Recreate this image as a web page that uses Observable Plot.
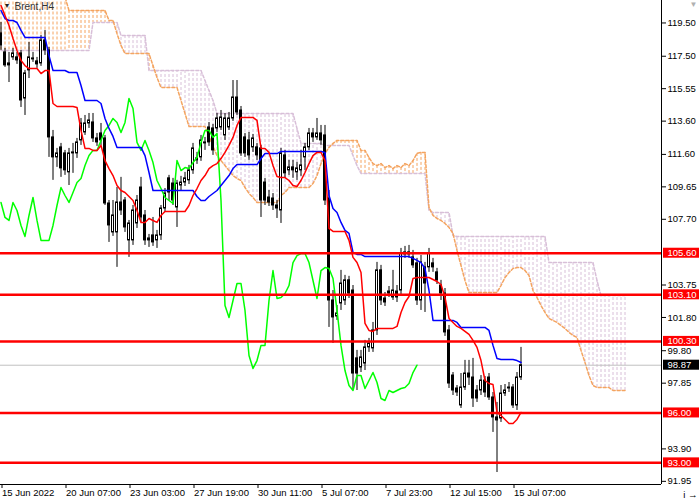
<!DOCTYPE html>
<html><head><meta charset="utf-8">
<script src="https://cdn.jsdelivr.net/npm/d3@7"></script>
<script src="https://cdn.jsdelivr.net/npm/@observablehq/plot@0.6"></script>
<style>
html,body{margin:0;padding:0;background:#fff;}
#chart{width:700px;height:500px;overflow:hidden;}
</style></head><body><div id="chart"></div>
<script>
// ---------- data (H4 bars, index 0 = first bar on the chart) ----------
const symbolLabel = "Brent,H4";
const dateLabels = ["15 Jun 2022","20 Jun 07:00","23 Jun 03:00","27 Jun 19:00","30 Jun 11:00","5 Jul 07:00","7 Jul 23:00","12 Jul 15:00","15 Jul 07:00"];
const dateTickBars = [0,16,32,48,64,80,96,112,128];
const yTicks = [119.50,117.50,115.55,113.60,111.60,109.65,107.70,103.75,101.80,99.80,97.85,93.90,91.95];
const levels = [105.60,103.10,100.30,96.00,93.00];
const lastPrice = 98.87;

const open = [
118.81,117.67,116.89,117.37,117.37,117.61,114.90,116.59,117.25,117.13,
117.01,118.39,117.79,112.56,111.36,111.96,111.60,110.46,111.60,111.60,
112.38,112.86,113.40,113.46,112.50,112.80,112.50,108.59,106.85,106.85,
108.65,108.77,106.37,106.37,107.39,109.55,107.87,106.37,106.67,106.37,
106.67,108.29,110.10,109.79,108.35,109.67,109.85,109.98,110.58,111.18,
111.36,112.20,113.16,113.10,113.10,113.16,112.68,113.16,113.70,114.96,
114.18,112.56,112.38,111.96,111.96,111.90,109.85,108.95,108.89,108.47,
108.17,111.48,110.58,110.76,110.46,110.58,111.36,111.96,112.80,112.56,
112.80,112.68,108.89,102.76,101.80,102.58,102.76,103.97,103.36,99.28,
98.73,98.97,99.94,99.88,100.96,104.57,102.88,103.18,102.94,103.30,
103.36,105.53,105.65,105.35,104.99,102.76,104.75,104.75,104.99,104.45,
103.66,103.18,100.96,98.25,97.47,96.45,97.53,98.37,98.13,97.35,
97.35,97.95,98.13,96.93,95.73,95.67,97.17,97.47,97.53,96.45,98.13];
const high = [
119.47,117.91,117.67,117.91,117.67,117.79,116.59,118.27,117.67,117.37,
118.69,118.99,117.97,112.98,111.90,112.20,111.78,111.90,112.20,112.50,
113.70,113.88,114.00,114.00,112.80,113.40,112.68,108.77,108.77,109.55,
110.16,108.95,107.57,108.47,109.07,110.16,108.17,106.73,107.75,106.97,
108.47,109.49,110.28,110.10,109.98,110.22,110.46,110.88,112.20,111.66,
112.68,112.56,113.46,113.34,114.00,114.18,114.00,114.06,115.98,115.98,
114.42,112.80,112.86,112.74,112.20,112.08,110.10,109.37,109.19,108.77,
111.90,111.78,111.18,111.18,111.06,111.78,112.20,113.10,113.10,113.70,
113.28,113.28,109.37,103.36,102.46,104.57,104.27,104.21,103.66,99.76,
99.76,100.36,100.48,101.44,105.05,104.87,103.24,103.60,104.57,103.66,
105.89,106.01,106.07,105.77,105.29,105.47,105.05,105.89,105.29,104.69,
103.97,103.48,101.26,98.43,97.65,98.37,99.16,99.16,99.28,97.65,
98.25,98.19,98.37,97.23,96.63,97.65,97.71,97.83,97.71,98.43,99.94];
const low = [
117.79,116.77,115.86,117.19,116.95,114.36,113.88,116.10,117.07,116.71,
116.83,117.49,111.36,109.98,110.76,110.16,110.28,109.67,110.40,111.30,
112.08,112.68,113.10,112.26,112.02,112.08,108.47,106.25,106.61,104.75,
107.87,106.85,105.35,106.07,107.09,107.45,106.07,105.95,106.01,105.89,
106.37,108.05,108.77,108.47,107.15,109.37,109.61,109.73,110.34,110.94,
111.12,111.78,112.02,111.48,112.86,112.98,112.38,112.98,113.52,113.88,
111.42,111.36,111.18,111.66,111.18,107.75,108.47,108.41,108.17,107.69,
107.39,110.10,110.28,110.10,109.98,110.22,110.58,111.78,112.26,112.38,
112.08,108.47,101.14,100.18,101.56,102.16,102.46,102.88,97.35,97.35,
98.43,98.55,99.64,99.64,100.66,102.46,102.40,102.94,102.76,102.64,
103.06,105.29,105.29,104.69,102.46,102.16,102.04,104.45,104.45,103.72,
102.76,100.60,97.47,97.05,96.99,96.27,97.35,97.65,96.33,96.63,
97.05,96.93,96.75,94.83,92.42,95.43,96.99,97.23,96.27,96.15,97.95];
const close = [
118.09,116.89,117.01,117.61,117.19,114.78,116.41,117.37,117.31,116.95,
118.39,117.79,112.56,111.36,111.60,110.70,110.58,111.60,111.66,112.26,
113.40,113.40,113.58,112.50,112.26,112.38,108.59,107.27,107.87,108.65,
108.17,107.15,107.39,108.17,108.77,107.75,106.37,106.49,106.25,106.67,
108.29,109.19,109.25,108.77,109.79,109.85,110.10,110.58,111.90,111.30,
112.38,112.26,112.26,111.78,113.70,113.76,113.70,113.70,114.96,114.06,
111.60,111.60,111.48,112.50,111.48,108.77,108.77,108.65,108.47,108.29,
111.60,110.40,110.76,110.58,110.70,110.88,111.96,112.80,112.56,112.80,
112.38,108.77,102.76,101.74,101.98,103.78,103.97,103.18,98.37,98.37,
99.34,99.94,100.18,100.96,104.57,102.76,102.64,103.30,103.36,102.94,
105.59,105.65,105.53,104.87,102.76,105.05,103.78,105.59,104.75,103.97,
103.18,100.84,97.77,97.35,97.23,97.53,98.37,98.13,96.87,96.87,
97.95,97.23,96.93,95.73,95.55,97.17,97.35,97.53,96.45,98.13,98.87];

const tenkan = [
120.49,119.89,119.29,118.51,117.79,117.19,116.88,116.70,116.70,116.70,
116.40,116.58,116.58,114.60,114.42,114.42,114.42,114.42,114.42,114.36,
112.98,111.90,111.90,111.78,111.78,112.08,111.17,110.69,110.27,109.67,
109.37,109.25,109.01,108.77,108.17,107.45,107.45,107.69,107.57,107.45,
107.87,108.11,108.11,108.11,108.11,108.11,108.11,108.47,109.07,109.49,
109.97,110.27,110.69,110.87,110.99,111.29,111.66,112.08,112.56,113.28,
113.76,113.76,113.76,113.76,113.58,111.90,111.90,111.66,110.87,110.21,
110.15,110.15,109.97,109.67,109.61,109.97,110.45,110.99,111.47,111.66,
111.66,111.17,107.09,106.91,106.91,106.91,106.91,106.37,105.35,105.04,
104.44,101.38,100.96,100.90,101.08,101.08,101.08,101.08,101.08,101.20,
102.04,102.64,103.00,104.08,104.14,104.14,104.14,104.14,104.02,103.90,
103.72,102.94,101.68,101.44,101.20,101.08,100.90,100.72,100.36,99.94,
99.15,97.95,97.77,97.71,96.03,95.85,95.61,95.37,95.37,95.61,96.03];
const kijun = [
120.19,119.71,119.59,119.59,119.47,118.99,118.57,118.57,118.57,118.57,
118.57,118.57,117.48,116.58,116.58,116.58,116.58,116.46,116.46,116.46,
115.68,114.78,114.78,114.78,114.78,114.60,113.70,113.10,112.62,111.96,
111.96,111.96,111.96,111.96,111.96,111.96,111.47,110.45,109.37,109.37,
109.37,109.37,109.37,109.37,109.37,109.37,109.37,109.37,109.37,109.01,
108.77,108.77,109.01,109.19,109.37,109.67,109.97,110.27,110.69,110.93,
110.93,110.93,110.93,110.93,110.93,111.29,111.59,111.59,111.59,111.59,
111.72,111.72,111.72,111.72,111.72,111.72,111.72,111.72,111.72,111.72,
111.72,111.66,109.07,108.29,108.05,107.45,106.97,106.79,105.65,105.53,
105.53,105.40,105.40,105.40,105.40,105.40,105.40,105.40,105.40,105.40,
105.40,105.40,105.40,105.29,105.17,105.04,104.68,103.36,101.56,101.56,
101.56,101.56,101.56,101.56,101.44,101.14,101.14,101.14,101.14,101.14,
101.14,101.14,100.96,100.06,99.27,99.21,99.21,99.21,99.21,99.15,99.03];
// Chikou span, drawn 26 bars back (bars 0..104)
const chikou = [
108.65,107.75,107.57,108.65,108.17,107.27,106.61,107.87,108.95,107.57,
106.37,106.37,106.37,107.27,108.47,109.55,109.07,108.65,109.25,109.85,
110.09,110.87,111.47,111.78,111.78,112.38,112.98,113.28,113.70,113.46,
112.86,113.46,114.90,114.30,112.26,111.78,112.38,111.78,111.05,109.97,
109.49,108.95,108.77,108.59,111.17,110.57,110.75,110.69,111.05,111.35,
112.26,112.98,112.98,112.56,112.80,108.77,102.46,101.74,102.76,103.78,
103.78,102.16,99.45,98.67,99.15,100.06,100.06,102.76,104.56,102.88,
102.94,103.18,103.66,105.04,105.46,105.58,105.58,105.04,103.96,102.88,
104.56,104.74,104.68,104.08,102.16,100.06,98.55,97.65,97.35,98.25,
98.25,97.47,97.95,98.43,97.83,96.87,96.75,97.35,97.23,97.35,
97.47,97.53,97.77,98.43,98.87];
// Senkou spans, drawn 26 bars ahead (bars 0..156)
const senkouA = [
121.00,121.00,121.00,121.00,121.00,121.00,121.00,121.00,121.00,121.00,
121.00,121.00,121.00,121.00,121.00,121.00,121.00,120.19,120.19,120.19,
120.19,120.19,120.19,120.19,120.19,120.19,120.19,119.59,119.59,118.81,
118.09,117.60,117.60,117.60,117.60,117.60,117.60,117.60,116.88,116.16,
115.56,115.56,115.56,115.56,115.56,114.78,114.00,113.22,113.22,113.22,
113.22,113.22,112.62,112.02,111.47,111.17,110.87,110.57,110.27,110.09,
109.97,109.55,109.19,108.95,108.65,108.65,108.65,108.65,108.65,108.65,
109.07,109.25,109.55,109.55,109.55,109.55,109.55,109.55,109.79,110.27,
110.99,111.60,111.96,112.20,112.38,112.38,112.38,112.38,112.38,112.38,
111.78,111.78,111.35,110.99,110.87,110.99,110.75,110.87,110.69,110.87,
110.75,110.99,110.87,111.17,111.60,111.66,111.66,108.35,107.87,107.69,
107.57,107.39,107.15,106.79,105.77,104.86,103.96,103.24,103.24,103.24,
103.24,103.24,103.24,103.24,103.24,103.66,104.14,104.44,104.68,104.74,
104.74,104.56,104.26,103.36,102.94,102.46,102.04,101.68,101.56,101.44,
101.26,101.08,100.84,100.66,100.54,99.76,99.03,98.25,97.65,97.53,
97.53,97.53,97.53,97.35,97.35,97.35,97.35];
const senkouB = [
117.79,117.79,117.79,117.79,117.79,117.79,117.79,117.79,117.79,117.79,
117.79,117.79,117.79,117.79,117.79,117.79,117.79,117.79,117.79,117.79,
117.79,117.79,117.79,119.47,119.47,119.47,119.47,119.47,119.47,119.47,
118.69,118.69,118.69,118.69,118.69,118.69,118.69,116.58,116.58,116.58,
116.58,116.58,116.58,116.58,116.58,116.58,116.58,116.58,116.58,116.58,
116.58,115.98,115.38,114.78,114.00,114.00,114.00,114.00,114.00,114.00,
114.00,114.00,114.00,114.00,114.00,114.00,114.00,114.00,114.00,114.00,
114.00,114.00,114.00,114.00,113.10,112.20,112.20,112.20,112.20,112.20,
112.20,112.08,112.08,112.08,112.08,112.08,112.08,112.08,111.47,110.87,
110.39,110.39,110.39,110.39,110.39,110.39,110.39,110.39,110.39,110.39,
110.39,110.39,110.39,110.39,110.39,110.39,110.39,108.17,108.05,108.05,
108.05,108.05,108.05,106.67,106.61,106.61,106.61,106.61,106.61,106.61,
106.61,106.61,106.61,106.61,106.61,106.61,106.61,106.61,106.61,106.61,
106.61,106.61,106.61,106.61,106.61,106.61,106.61,105.04,105.04,105.04,
105.04,105.04,105.04,105.04,105.04,105.04,105.04,105.04,105.04,103.96,
103.06,103.06,103.06,103.06,103.06,103.06,103.06];

// ---------- tables for the marks ----------
const bars = open.map((o, i) => ({i, o, h: high[i], l: low[i], c: close[i]}));
const tk = tenkan.map((v, i) => ({i, v}));
const kj = kijun.map((v, i) => ({i, v}));
const ck = chikou.map((v, i) => ({i, v}));
const cloud = senkouA.map((a, i) => ({i, a, b: senkouB[i]}));

// ---------- layout ----------
const W = 700, H = 500, mR = 39, mB = 16;
const frameW = W - mR, frameH = H - mB;
const pxPerBar = 4;
const xDomain = [-0.5 / pxPerBar, (frameW - 0.5) / pxPerBar];
const yDomain = [91.70, 120.79];
const pricePerPx = (yDomain[1] - yDomain[0]) / frameH;
const boxX1 = xDomain[1] + 2 / pxPerBar, boxX2 = xDomain[1] + 38 / pxPerBar;
const boxTextX = xDomain[1] + 6 / pxPerBar;
const boxHalf = 5 * pricePerPx;

const ORANGE = "#F4A460", THISTLE = "#D8BFD8";
const FONT = "'Liberation Sans', Arial, sans-serif";

const chart = Plot.plot({
  width: W, height: H,
  marginLeft: 0, marginRight: mR, marginTop: 0, marginBottom: mB,
  x: {domain: xDomain, axis: null},
  y: {domain: yDomain, axis: null},
  style: {fontFamily: FONT, fontSize: "9.5px", background: "white", color: "black", overflow: "visible"},
  marks: [
    // cloud hatching
    Plot.ruleX(cloud, {filter: d => d.a >= d.b, x: "i", y1: "a", y2: "b", stroke: ORANGE, strokeDasharray: "3,2", clip: true}),
    Plot.ruleX(cloud, {filter: d => d.a < d.b, x: "i", y1: "a", y2: "b", stroke: THISTLE, strokeDasharray: "3,2", clip: true}),
    Plot.line(cloud, {x: "i", y: "b", stroke: THISTLE, strokeDasharray: "3,2", clip: true}),
    Plot.line(cloud, {x: "i", y: "a", stroke: ORANGE, strokeDasharray: "3,2", clip: true}),
    // bid line
    Plot.ruleY([lastPrice], {stroke: "#C0C0C0"}),
    // candles
    Plot.ruleX(bars, {x: "i", y1: "l", y2: "h", stroke: "black", clip: true}),
    Plot.rect(bars, {filter: d => d.c >= d.o, x1: d => d.i - 0.25, x2: d => d.i + 0.25, y1: "o", y2: "c", fill: "white", stroke: "black"}),
    Plot.rect(bars, {filter: d => d.c < d.o, x1: d => d.i - 0.25, x2: d => d.i + 0.25, y1: "o", y2: "c", fill: "black", stroke: "black"}),
    // Ichimoku lines
    Plot.line(ck, {x: "i", y: "v", stroke: "#00FF00", clip: true}),
    Plot.line(kj, {x: "i", y: "v", stroke: "#0000FF", clip: true}),
    Plot.line(tk, {x: "i", y: "v", stroke: "#FF0000", clip: true}),
    // horizontal levels
    Plot.ruleY(levels, {stroke: "#FF0000", strokeWidth: 2.5}),
    // axes
    Plot.ruleX([xDomain[1]], {stroke: "black"}),
    Plot.ruleY([yDomain[0]], {stroke: "black"}),
    Plot.axisY({anchor: "right", ticks: yTicks, tickSize: 4, tickPadding: 2, dy: 1, tickFormat: d => d.toFixed(2), fontSize: 9.5, fill: "black"}),
    Plot.axisX({anchor: "bottom", ticks: dateTickBars, tickSize: 4, tickPadding: 1,
      tickFormat: d => dateLabels[dateTickBars.indexOf(d)], textAnchor: "start", dx: 1, fontSize: 9.5, fill: "black"}),
    // price labels on the axis
    Plot.rect(levels, {x1: boxX1, x2: boxX2, y1: d => d - boxHalf, y2: d => d + boxHalf, fill: "#FF0000"}),
    Plot.text(levels, {x: boxTextX, y: d => d, text: d => d.toFixed(2), fill: "white", textAnchor: "start", fontSize: 9.5}),
    Plot.rect([lastPrice], {x1: boxX1, x2: boxX2, y1: d => d - boxHalf, y2: d => d + boxHalf, fill: "black"}),
    Plot.text([lastPrice], {x: boxTextX, y: d => d, text: d => d.toFixed(2), fill: "white", textAnchor: "start", fontSize: 9.5}),
    // symbol label
    Plot.text(["\u25BC"], {frameAnchor: "top-left", text: d => d, dx: 3, dy: 3, lineAnchor: "top", textAnchor: "start", fontSize: 7, fill: "#222"}),
    Plot.text([symbolLabel], {frameAnchor: "top-left", text: d => d, dx: 14, dy: 2, lineAnchor: "top", textAnchor: "start", fontSize: 10, fill: "#333"}),
    Plot.text(["\u25BC"], {frameAnchor: "top-right", text: d => d, dx: 32, dy: 1, lineAnchor: "top", textAnchor: "middle", fontSize: 8, fill: "#B0B0B0"})
  ]
});
document.getElementById("chart").appendChild(chart);
</script>
</body></html>
